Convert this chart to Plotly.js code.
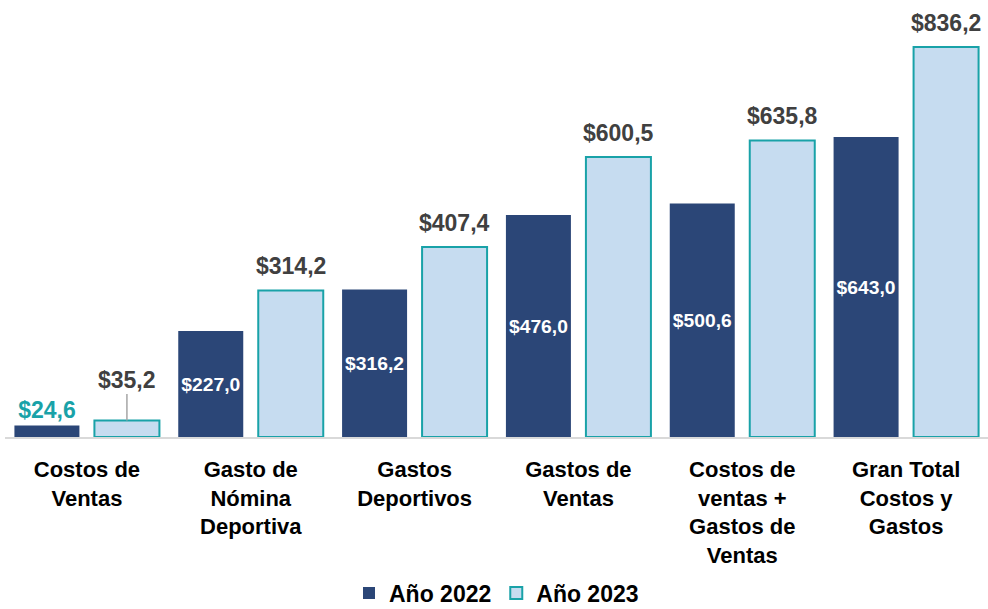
<!DOCTYPE html>
<html>
<head>
<meta charset="utf-8">
<script src="https://cdn.plot.ly/plotly-3.0.1.min.js"></script>
<style>html,body{margin:0;padding:0;background:#fff;}#chart{width:988px;height:609px;}</style>
</head>
<body>
<div id="chart"></div>
<script>
var categories = ['Costos de<br>Ventas', 'Gasto de<br>Nómina<br>Deportiva', 'Gastos<br>Deportivos', 'Gastos de<br>Ventas', 'Costos de<br>ventas +<br>Gastos de<br>Ventas', 'Gran Total<br>Costos y<br>Gastos'];
var values2022 = [24.6, 227.0, 316.2, 476.0, 500.6, 643.0];
var values2023 = [35.2, 314.2, 407.4, 600.5, 635.8, 836.2];
var seriesNames = ['Año 2022', 'Año 2023'];

var NAVY = '#2B4677', LIGHT = '#C6DCF0', TEAL = '#19A2A8', GRAYTXT = '#404040';
var FONT = '"Liberation Sans", Arial, sans-serif';
function fmt(v){ return '$' + v.toFixed(1).replace('.', ','); }

var trace2022 = {
  type: 'bar', name: seriesNames[0], x: categories, y: values2022,
  marker: {color: NAVY, line: {width: 0}},
  text: values2022.map(fmt),
  textposition: values2022.map(function(v,i){ return i === 0 ? 'outside' : 'inside'; }),
  insidetextanchor: 'middle', textangle: 0, cliponaxis: false,
  textfont: {family: FONT, size: 23, weight: 'bold', color: values2022.map(function(v,i){ return i === 0 ? TEAL : '#FFFFFF'; })},
  hoverinfo: 'skip'
};
var trace2023 = {
  type: 'bar', name: seriesNames[1], x: categories, y: values2023,
  marker: {color: LIGHT, line: {color: TEAL, width: 2}},
  hoverinfo: 'skip'
};

var annotations = values2023.map(function(v, i){
  var a = {
    x: categories[i], y: v, xref: 'x', yref: 'y', text: fmt(v),
    font: {family: FONT, size: 23, weight: 'bold', color: GRAYTXT},
    xshift: 40
  };
  if (i === 0) {
    a.showarrow = true; a.ax = 0; a.ay = -41; a.arrowhead = 0;
    a.arrowwidth = 1.5; a.arrowcolor = '#A6A6A6'; a.standoff = 0;
  } else {
    a.showarrow = false; a.yanchor = 'bottom'; a.yshift = 9;
  }
  return a;
});

var layout = {
  width: 988, height: 609,
  margin: {l: 5, r: 0, t: 20, b: 172, pad: 0, autoexpand: false},
  paper_bgcolor: '#FFFFFF', plot_bgcolor: '#FFFFFF',
  font: {family: FONT, size: 22, weight: 'bold', color: '#000000'},
  barmode: 'group', bargap: 0.0234, bargroupgap: 0.1875,
  showlegend: true,
  legend: {orientation: 'h', x: 0.5, xanchor: 'center', yref: 'container', y: 0.026, yanchor: 'middle',
           font: {family: FONT, size: 23, weight: 'bold', color: '#000000'}, traceorder: 'normal'},
  xaxis: {type: 'category', showline: true, linecolor: '#D9D9D9', linewidth: 1.5,
          ticks: '', showgrid: false, zeroline: false, automargin: false, ticklabelstandoff: 12,
          tickfont: {family: FONT, size: 22, weight: 'bold', color: '#000000'}},
  yaxis: {range: [0, 894], visible: false, showgrid: false, zeroline: false, automargin: false},
  annotations: annotations
};

Plotly.newPlot('chart', [trace2022, trace2023], layout, {displayModeBar: false, staticPlot: true});
</script>
</body>
</html>
